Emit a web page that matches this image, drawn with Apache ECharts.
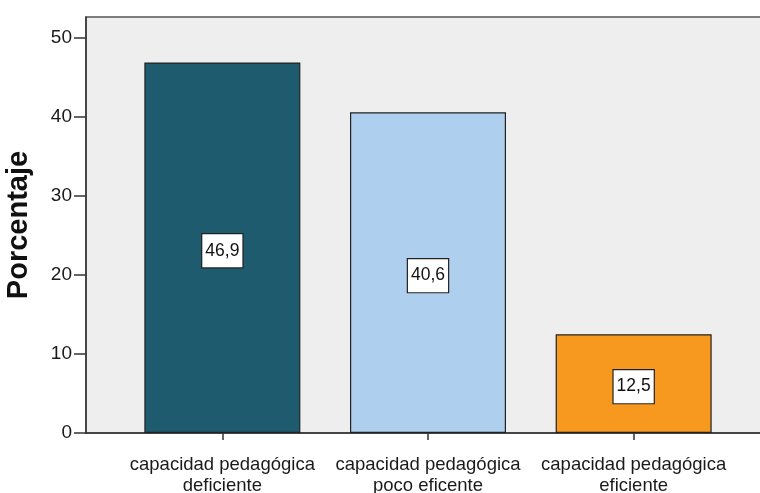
<!DOCTYPE html>
<html>
<head>
<meta charset="utf-8">
<script src="https://cdn.jsdelivr.net/npm/echarts@6/dist/echarts.min.js"></script>
<style>
  html, body { margin: 0; padding: 0; background: #ffffff; }
  #chart { width: 760px; height: 493px; }
</style>
</head>
<body>
<div id="chart"></div>
<script>
// Category names, percentages and bar colours
const categories = [
  'capacidad pedagógica\ndeficiente',
  'capacidad pedagógica\npoco eficente',
  'capacidad pedagógica\neficiente'
];
const percentages = [46.9, 40.6, 12.5];
const barColors = ['#1e5b6f', '#aecfee', '#f7991f'];
const yTicks = [0, 10, 20, 30, 40, 50];
const categoryPositions = [0, 1, 2];

const FONT = 'Liberation Sans, Arial, sans-serif';

const chart = echarts.init(document.getElementById('chart'), null, { renderer: 'canvas' });

chart.setOption({
  animation: false,
  backgroundColor: '#ffffff',
  grid: {
    left: 86,
    top: 17,
    bottom: 60,
    width: 684,
    outerBoundsMode: 'none',
    containLabel: false,
    show: true,
    backgroundColor: '#eeeeee',
    borderColor: '#555555',
    borderWidth: 1.5
  },
  xAxis: {
    type: 'value',
    min: -0.663,
    max: 2.663,
    splitLine: { show: false },
    axisLine: { show: true, onZero: false, lineStyle: { color: '#333333', width: 1.5 } },
    axisTick: {
      show: true,
      customValues: categoryPositions,
      length: 7,
      lineStyle: { color: '#333333', width: 1.5 }
    },
    axisLabel: {
      customValues: categoryPositions,
      formatter: v => categories[Math.round(v)],
      fontFamily: FONT,
      fontSize: 18.5,
      color: '#1a1a1a',
      lineHeight: 21,
      margin: 21
    }
  },
  yAxis: {
    type: 'value',
    min: 0,
    max: 52.66,
    interval: 10,
    name: 'Porcentaje',
    nameLocation: 'middle',
    nameGap: 53,
    nameTextStyle: {
      fontFamily: FONT,
      fontSize: 29,
      fontWeight: 'bold',
      color: '#111111'
    },
    splitLine: { show: false },
    axisLine: { show: true, onZero: false, lineStyle: { color: '#333333', width: 1.5 } },
    axisTick: {
      show: true,
      length: 12,
      customValues: yTicks,
      lineStyle: { color: '#333333', width: 1.5 }
    },
    axisLabel: {
      customValues: yTicks,
      fontFamily: FONT,
      fontSize: 19,
      color: '#1a1a1a',
      margin: 14,
      formatter: v => String(v)
    }
  },
  series: [{
    type: 'bar',
    barWidth: 156,
    data: percentages.map((v, i) => ({
      value: [categoryPositions[i], v],
      itemStyle: { color: barColors[i] }
    })),
    itemStyle: { borderColor: '#222222', borderWidth: 1.2 },
    label: {
      show: true,
      position: 'inside',
      offset: [0, 3],
      formatter: p => p.value[1].toFixed(1).replace('.', ','),
      fontFamily: FONT,
      fontSize: 17.5,
      color: '#111111',
      backgroundColor: '#ffffff',
      borderColor: '#222222',
      borderWidth: 1.2,
      lineHeight: 20,
      padding: [7, 3, 6, 3]
    }
  }]
});
</script>
</body>
</html>
